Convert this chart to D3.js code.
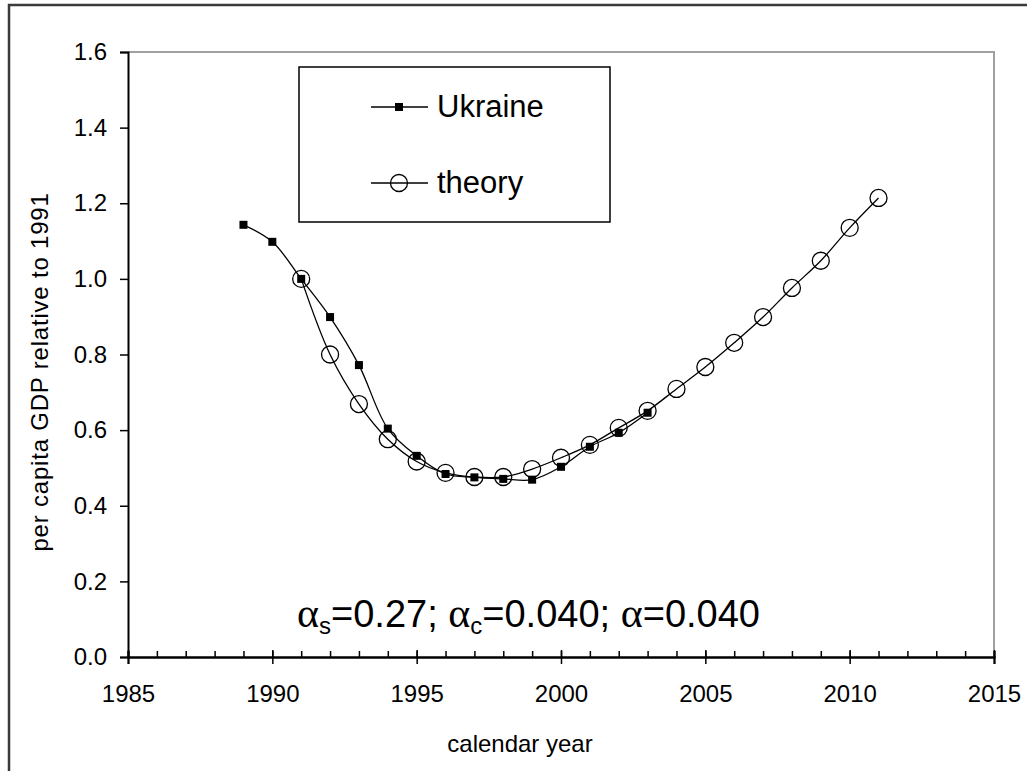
<!DOCTYPE html>
<html><head><meta charset="utf-8">
<script src="https://cdn.jsdelivr.net/npm/d3@7"></script>
<style>body{margin:0;background:#fff}svg{display:block}text{font-family:"Liberation Sans",Arial,sans-serif;fill:#000}</style>
</head><body>
<script>
const ukraineYears = [1989,1990,1991,1992,1993,1994,1995,1996,1997,1998,1999,2000,2001,2002,2003];
const ukraineValues = [1.143,1.098,1.0,0.899,0.772,0.604,0.532,0.484,0.475,0.471,0.469,0.503,0.556,0.593,0.646];
const theoryYears = [1991,1992,1993,1994,1995,1996,1997,1998,1999,2000,2001,2002,2003,2004,2005,2006,2007,2008,2009,2010,2011];
const theoryValues = [1.0,0.80,0.669,0.576,0.517,0.487,0.476,0.476,0.497,0.527,0.561,0.606,0.651,0.709,0.767,0.831,0.899,0.976,1.048,1.135,1.214];
const xMajorTicks = [1985,1990,1995,2000,2005,2010,2015];
const xMinorTicks = d3.range(1985,2016,1);
const yTicks = [0,0.2,0.4,0.6,0.8,1.0,1.2,1.4,1.6];
const seriesNames = ["Ukraine","theory"];

const W=1027,H=771;
const svg=d3.select("body").append("svg").attr("width",W).attr("height",H);
svg.append("rect").attr("width",W).attr("height",H).attr("fill","#fff");

const x=d3.scaleLinear().domain([1985,2015]).range([128,994]);
const y=d3.scaleLinear().domain([0,1.6]).range([657,52]);

// outer chart border (left and top visible)
svg.append("path").attr("d",`M9,${H+5} L9,5 L${W+5},5`).attr("fill","none").attr("stroke","#3a3a3a").attr("stroke-width",2.5);

// plot area border (gray)
svg.append("path").attr("d",`M${x(1985)},${y(1.6)} L${x(2015)},${y(1.6)} L${x(2015)},${y(0)}`)
  .attr("fill","none").attr("stroke","#a0a0a0").attr("stroke-width",2);

// x axis
const gx=svg.append("g").attr("transform",`translate(0,${y(0)})`);
gx.call(d3.axisBottom(x).tickValues(xMinorTicks).tickSize(-6).tickFormat(""));
gx.call(g=>g.selectAll(".tick line").attr("stroke","#000").attr("stroke-width",1.5));
const gx2=svg.append("g").attr("transform",`translate(0,${y(0)})`);
gx2.call(d3.axisBottom(x).tickValues(xMajorTicks).tickSize(7).tickPadding(21).tickFormat(d3.format("d")));
gx2.selectAll(".tick line").attr("y1",-7).attr("stroke","#000").attr("stroke-width",1.5);
gx2.selectAll(".tick text").attr("font-size",24).attr("font-family","'Liberation Sans',Arial,sans-serif").attr("fill","#000");
svg.selectAll(".domain").attr("stroke","#000").attr("stroke-width",2);

// y axis
const gy=svg.append("g").attr("transform",`translate(${x(1985)},0)`);
gy.call(d3.axisLeft(y).tickValues(yTicks).tickSize(8).tickPadding(13).tickFormat(d3.format(".1f")));
gy.selectAll(".tick line").attr("stroke","#000").attr("stroke-width",1.5);
gy.selectAll(".tick text").attr("font-size",24).attr("font-family","'Liberation Sans',Arial,sans-serif").attr("fill","#000");
gy.select(".domain").attr("stroke","#000").attr("stroke-width",2);

// lines
const line=d3.line().x(d=>x(d[0])).y(d=>y(d[1])).curve(d3.curveCatmullRom.alpha(0.5));
const uData=ukraineYears.map((yr,i)=>[yr,ukraineValues[i]]);
const tData=theoryYears.map((yr,i)=>[yr,theoryValues[i]]);
svg.append("path").datum(uData).attr("d",line).attr("fill","none").attr("stroke","#000").attr("stroke-width",1.3);
svg.append("path").datum(tData).attr("d",line).attr("fill","none").attr("stroke","#000").attr("stroke-width",1.3);
svg.selectAll("rect.u").data(uData).enter().append("rect").attr("class","u")
  .attr("x",d=>x(d[0])-4).attr("y",d=>y(d[1])-4).attr("width",8).attr("height",8).attr("fill","#000");
svg.selectAll("circle.t").data(tData).enter().append("circle").attr("class","t")
  .attr("cx",d=>x(d[0])).attr("cy",d=>y(d[1])).attr("r",8.5).attr("fill","none").attr("stroke","#000").attr("stroke-width",1.3);

// legend
const lg=svg.append("g");
lg.append("rect").attr("x",299).attr("y",67).attr("width",311).attr("height",155).attr("fill","#fff").attr("stroke","#000").attr("stroke-width",1.5);
lg.append("line").attr("x1",371).attr("x2",428).attr("y1",107).attr("y2",107).attr("stroke","#000").attr("stroke-width",1.3);
lg.append("rect").attr("x",395).attr("y",103).attr("width",8).attr("height",8).attr("fill","#000");
lg.append("text").attr("x",437).attr("y",117).attr("font-size",31).text(seriesNames[0]);
lg.append("line").attr("x1",371).attr("x2",428).attr("y1",183).attr("y2",183).attr("stroke","#000").attr("stroke-width",1.3);
lg.append("circle").attr("cx",399).attr("cy",183).attr("r",8.5).attr("fill","none").attr("stroke","#000").attr("stroke-width",1.3);
lg.append("text").attr("x",437).attr("y",193).attr("font-size",31).text(seriesNames[1]);

// annotation
const ann=svg.append("text").attr("x",297).attr("y",627).attr("font-size",38);
const parts=[["α","g"],["s","sub"],["=0.27; ","n"],["α","g"],["c","sub"],["=0.040; ","n"],["α","g"],["=0.040","n"]];
parts.forEach((p,i)=>{
  const t=ann.append("tspan").text(p[0]);
  if(p[1]==="g") t.attr("font-family","'Liberation Serif','Times New Roman',serif").attr("font-size",42);
  if(p[1]==="sub") t.attr("font-size",24).attr("dy",7);
  if(p[1]==="n" && i>0 && parts[i-1][1]==="sub") t.attr("dy",-7);
});

// axis titles
svg.append("text").attr("x",520).attr("y",752).attr("text-anchor","middle").attr("font-size",24).text("calendar year");
svg.append("text").attr("transform","translate(48,372) rotate(-90)").attr("text-anchor","middle").attr("font-size",24).attr("letter-spacing",0.8).text("per capita GDP relative to 1991");
</script>
</body></html>
